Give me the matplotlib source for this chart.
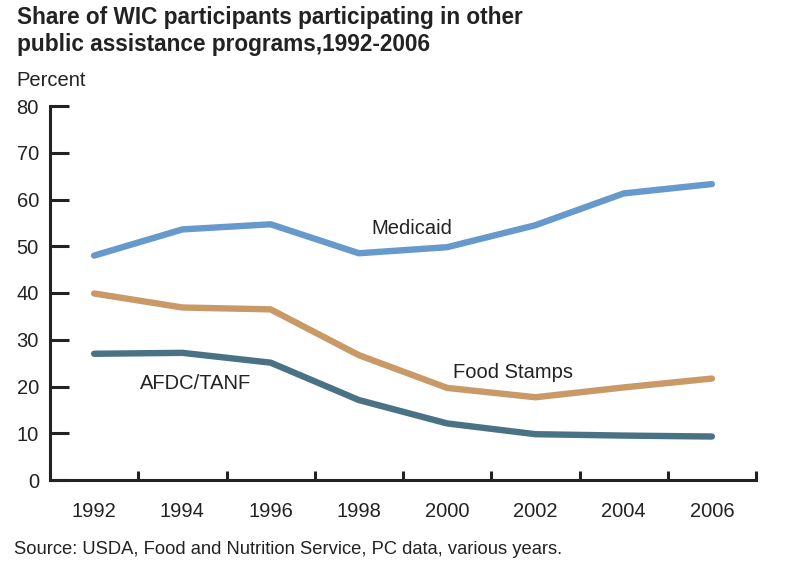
import numpy as np
import matplotlib
matplotlib.use("Agg")
import matplotlib.pyplot as plt

plt.rcParams['font.family'] = ['Liberation Sans', 'DejaVu Sans']

# data
years = [1992, 1994, 1996, 1998, 2000, 2002, 2004, 2006]
medicaid = [48.0, 53.6, 54.7, 48.5, 49.8, 54.5, 61.3, 63.3]
food_stamps = [39.9, 36.9, 36.5, 26.7, 19.7, 17.7, 19.8, 21.7]
afdc_tanf = [27.0, 27.2, 25.1, 17.1, 12.1, 9.8, 9.5, 9.3]
y_ticks = [0, 10, 20, 30, 40, 50, 60, 70, 80]

W, H = 785, 573
fig = plt.figure(figsize=(W / 100, H / 100), dpi=100)
ax = fig.add_axes([50 / W, 1 - 480 / H, (756 - 50) / W, (480 - 106) / H])

lw = 4.6
ax.plot(years, medicaid, color='#6699cc', lw=lw, solid_capstyle='round', solid_joinstyle='round')
ax.plot(years, food_stamps, color='#c99a67', lw=lw, solid_capstyle='round', solid_joinstyle='round')
ax.plot(years, afdc_tanf, color='#4a7285', lw=lw, solid_capstyle='round', solid_joinstyle='round')

ax.text(1999.2, 53.9, 'Medicaid', fontsize=14.5, ha='center', va='center', color='#222222')
ax.text(2001.5, 23.0, 'Food Stamps', fontsize=14.5, ha='center', va='center', color='#222222')
ax.text(1994.3, 20.6, 'AFDC/TANF', fontsize=14.5, ha='center', va='center', color='#222222')

ax.set_xlim(1991, 2007)
ax.set_ylim(0, 80)
for s in ['top', 'right']:
    ax.spines[s].set_visible(False)
for s in ['left', 'bottom']:
    ax.spines[s].set_linewidth(2.2)
    ax.spines[s].set_color('#222222')

ax.set_yticks(y_ticks)
ax.tick_params(axis='y', direction='in', length=13.5, width=2.2, color='#222222',
               labelsize=14.5, pad=8, labelcolor='#222222')
ax.set_xticks(np.arange(1991, 2008, 2))
ax.set_xticklabels([])
ax.set_xticks(years, minor=True)
ax.set_xticklabels([str(y) for y in years], minor=True)
ax.tick_params(axis='x', which='major', direction='in', length=6.5, width=2.2, color='#222222')
ax.tick_params(axis='x', which='minor', length=0, labelsize=14.5, pad=16, labelcolor='#222222')

fig.text(17 / W, 1 - 6 / H, 'Share of WIC participants participating in other\npublic assistance programs,1992-2006',
         fontsize=16.3, fontweight='bold', ha='left', va='top', color='#222222', linespacing=1.2)
fig.text(16 / W, 1 - 80 / H, 'Percent', fontsize=14.5, ha='left', va='center', color='#222222')
fig.text(14 / W, 1 - 549 / H, 'Source: USDA, Food and Nutrition Service, PC data, various years.',
         fontsize=13.2, ha='left', va='center', color='#222222')

fig.savefig('out.png', dpi=100)
